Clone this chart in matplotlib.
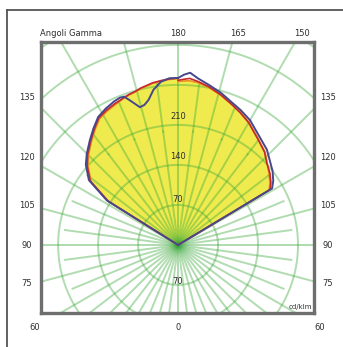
import numpy as np
import matplotlib.pyplot as plt
from matplotlib.lines import Line2D

# Gamma angles (deg, 0 = down, 180 = up) and intensities (cd/klm)
gamma_right = [0, 115, 121, 124, 128, 133, 137, 143, 150, 155, 159, 164, 169, 173, 176, 178, 180]
purple_right = [0, 0, 192, 201, 210, 219, 228, 237, 252, 260, 266, 276, 285, 293, 302, 298, 292]
red_right = [0, 0, 188, 196, 204, 212, 222, 232, 247, 256, 263, 273, 282, 288, 292, 290, 288]
orange_right = [0, 0, 186, 194, 202, 213, 223, 233, 248, 257, 263, 272, 281, 286, 288, 287, 286]

gamma_left = [0, 115, 122, 126, 131, 135, 140, 144, 148, 152, 156, 158.5, 160, 162,
              164.5, 166.5, 168.5, 171, 174, 177, 180]
purple_left = [0, 0, 147, 193, 214, 226, 240, 252, 264, 270, 275, 277, 276, 264,
               250, 252, 259, 275, 287, 292, 292]
red_left = [0, 0, 145, 190, 211, 224, 238, 250, 262, 267, 271, 273, 275, 277,
            279, 282, 284, 287, 289, 291, 292]
orange_left = [0, 0, 143, 188, 209, 222, 236, 248, 260, 265, 269, 272, 274, 276,
               278, 281, 283, 286, 288, 290, 291]

rings = [70, 140, 210, 280, 350, 420]
ring_labels = ["70", "140", "210"]
side_labels = ["135", "120", "105", "90", "75"]
top_labels = ["180", "165", "150"]
bottom_labels = ["60", "0", "60"]


def to_xy(g, r, side):
    g = np.radians(np.asarray(g, dtype=float))
    r = np.asarray(r, dtype=float)
    return side * r * np.sin(g), -r * np.cos(g)


W, H = 343, 347
fig = plt.figure(figsize=(W / 100, H / 100), dpi=100)
ax = fig.add_axes([41 / W, 1 - 313 / H, 273 / W, 271 / H])
ax.set_xlim(-240, 238)
ax.set_ylim(-119, 355)
ax.set_xticks([])
ax.set_yticks([])
for s in ax.spines.values():
    s.set_color('#6e6e6e')
    s.set_linewidth(2.4)

# yellow lobe (filled under orange curve)
xr, yr = to_xy(gamma_right, orange_right, 1)
xl, yl = to_xy(gamma_left, orange_left, -1)
lobe = ax.fill(np.concatenate([xr, xl[::-1]]), np.concatenate([yr, yl[::-1]]),
               color='#efeb4e', lw=0, zorder=1)[0]

# polar grid
grid_kw = dict(color='#3aa83a', alpha=0.4, lw=1.4, zorder=2)
t = np.linspace(0, 2 * np.pi, 400)
for r in rings:
    ax.plot(r * np.cos(t), r * np.sin(t), **grid_kw)
for a in np.arange(0, 360, 15):
    x, y = to_xy([a, a], [0, 700], 1)
    ax.plot(x, y, **grid_kw)
for a in np.arange(7.5, 360, 15):
    x, y = to_xy([a, a], [0, 200], 1)
    ax.plot(x, y, **grid_kw)
    if 90 < a < 270:
        x, y = to_xy([a, a], [200, 330], 1)
        ln, = ax.plot(x, y, **grid_kw)
        ln.set_clip_path(lobe)

# curves
for g, o, r, p, side in [(gamma_right, orange_right, red_right, purple_right, 1),
                         (gamma_left, orange_left, red_left, purple_left, -1)]:
    ax.plot(*to_xy(g, o, side), color='#e8901e', lw=1.2, zorder=3)
    ax.plot(*to_xy(g, r, side), color='#c8282a', lw=1.2, zorder=4)
    ax.plot(*to_xy(g, p, side), color='#47478c', lw=1.4, zorder=5)


def ftext(x, y, s, ha='center', size=6):
    fig.text(x / W, 1 - y / H, s, ha=ha, va='center', fontsize=size,
             color='#2e2e2e', zorder=10)


ftext(40, 33, "Angoli Gamma", ha='left')
for lab, x in zip(top_labels, [178, 238, 302]):
    ftext(x, 33, lab)
for lab, y in zip(side_labels, [97, 158, 205, 245, 283]):
    ftext(27, y, lab)
    ftext(328, y, lab)
for lab, x in zip(bottom_labels, [35, 178, 320]):
    ftext(x, 327, lab)
for lab, y in zip(ring_labels, [200, 157, 117]):
    ftext(178, y, lab)
ftext(178, 282, ring_labels[0])
ftext(312, 307, "cd/klm", ha='right', size=5)

# outer frame (left and top edges)
fig.add_artist(Line2D([7 / W, 7 / W], [0, 1 - 10 / H], color='#555555', lw=1.3))
fig.add_artist(Line2D([7 / W, 1], [1 - 10 / H, 1 - 10 / H], color='#555555', lw=1.3))

plt.savefig('out.png', dpi=100)
